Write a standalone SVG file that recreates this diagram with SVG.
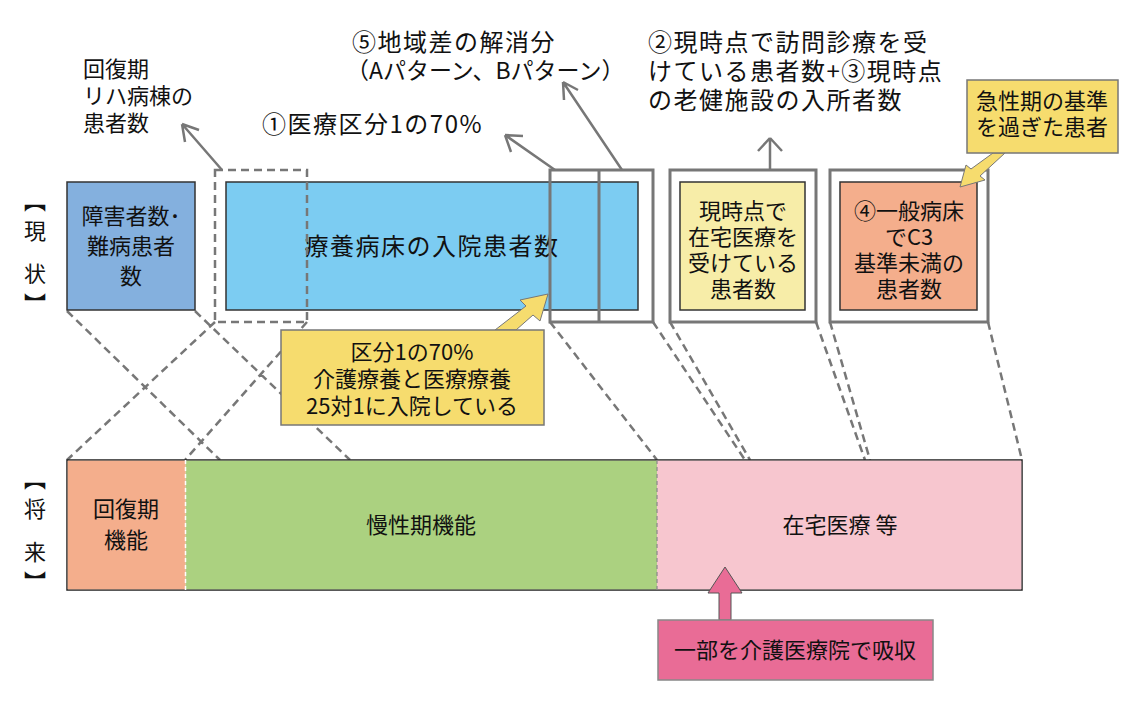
<svg xmlns="http://www.w3.org/2000/svg" width="1143" height="708" viewBox="0 0 1143 708">
<defs>
<style>
text{font-family:"Noto Sans CJK JP","Noto Sans",sans-serif;fill:#111;}
.t{font-size:22px;}
.L{font-size:24px;letter-spacing:1.5px;}
.c{text-anchor:middle;}
.box{stroke:#333;stroke-width:1.5;}
.frame{fill:none;stroke:#777;stroke-width:3;}
.dash{fill:none;stroke:#777;stroke-width:2.5;stroke-dasharray:8 5;}
.arr{fill:none;stroke:#777;stroke-width:2.5;}
</style>
</defs>
<rect width="1143" height="708" fill="#fff"/>
<text class="t" x="35" y="190" style="writing-mode:vertical-rl;letter-spacing:8px" font-size="22">【現 状】</text>
<text class="t" x="35" y="468" style="writing-mode:vertical-rl;letter-spacing:8px" font-size="22">【将 来】</text>
<g id="connectors">
<path class="dash" d="M67,311 L220,460 M195,311 L350,460 M215,322 L67,460 M307,322 L185,460 M550,322 L657,460 M653,322 L745,460 M670,322 L750,460 M816,322 L865,460 M830,322 L870,460 M988,322 L1022,460"/>
<path class="arr" d="M222,170 L182,124 M182,124 l3,18 M182,124 l17,6"/>
<path class="arr" d="M555,170 L505,135 M505,135 l6,17 M505,135 l18,1"/>
<path class="arr" d="M622,170 L563,82 M563,82 l1,18 M563,82 l15,8"/>
<path class="arr" d="M770,170 L770,138 M770,138 l-12,13 M770,138 l12,13"/>
</g>
<g id="n-shougai"><rect class="box" x="67" y="182" width="128" height="128" fill="#84B0DE"/>
<text class="t c" x="131" y="224" font-size="23">障害者数･</text><text class="t c" x="131" y="254" font-size="23">難病患者</text><text class="t c" x="131" y="284" font-size="23">数</text></g>
<g id="n-ryouyou"><rect class="box" x="226" y="182" width="412" height="128" fill="#7CCCF2"/>
<text class="L c" x="432" y="255">療養病床の入院患者数</text></g>
<g id="n-kaifuku-frame"><rect class="dash" x="215" y="170" width="92" height="152"/></g>
<g id="n-ryouyou-frame"><rect class="frame" x="550" y="170" width="103" height="152"/><line class="frame" x1="599" y1="170" x2="599" y2="322"/></g>
<g id="n-zaitaku"><rect class="frame" x="670" y="170" width="146" height="152"/>
<rect class="box" x="680" y="182" width="125" height="128" fill="#F7EDA8"/>
<text class="t c" x="743" y="219" font-size="20">現時点で</text><text class="t c" x="743" y="245" font-size="20">在宅医療を</text><text class="t c" x="743" y="271" font-size="20">受けている</text><text class="t c" x="743" y="297" font-size="20">患者数</text></g>
<g id="n-ippan"><rect class="frame" x="830" y="170" width="158" height="152"/>
<rect class="box" x="840" y="182" width="137" height="128" fill="#F4AE8C"/>
<text class="t c" x="909" y="219" font-size="20">④一般病床</text><text class="t c" x="909" y="245" font-size="20">でC3</text><text class="t c" x="909" y="271" font-size="20">基準未満の</text><text class="t c" x="909" y="297" font-size="20">患者数</text></g>
<g id="lbl-kaifuku"><text class="t" x="83" y="77" font-size="23">回復期</text><text class="t" x="83" y="104" font-size="23">リハ病棟の</text><text class="t" x="83" y="131" font-size="23">患者数</text></g>
<g id="lbl-1"><text class="L" x="262" y="133">①医療区分1の70%</text></g>
<g id="lbl-5"><text class="L" x="352" y="51">⑤地域差の解消分</text><text x="346" y="79" font-size="23">（Aパターン、Bパターン）</text></g>
<g id="lbl-23"><text class="L" x="648" y="51">②現時点で訪問診療を受</text><text class="L" x="648" y="80">けている患者数+③現時点</text><text class="L" x="648" y="109">の老健施設の入所者数</text></g>
<g id="callout-kyusei"><polygon points="993,153 1005,153 980,176 985,180 960,187 966,165 971,169" fill="#F6DC6E" stroke="#777" stroke-width="1"/>
<rect x="967" y="80" width="151" height="73" fill="#F6DC6E" stroke="#777" stroke-width="1.5"/>
<text class="t c" x="1042" y="109" font-size="20">急性期の基準</text><text class="t c" x="1042" y="135" font-size="20">を過ぎた患者</text></g>
<g id="callout-kubun"><polygon points="500,330 516,330 533,315 540,321 548,294 520,300 526,306 495,330" fill="#F6DC6E" stroke="#777" stroke-width="1"/>
<rect x="281" y="330" width="263" height="95" fill="#F6DC6E" stroke="#777" stroke-width="1.5"/>
<text class="t c" x="412" y="360" font-size="19">区分1の70%</text><text class="t c" x="412" y="387" font-size="19">介護療養と医療療養</text><text class="t c" x="412" y="414" font-size="19">25対1に入院している</text></g>
<g id="n-future"><rect x="67" y="460" width="955" height="130" fill="#fff" stroke="#222" stroke-width="1.5"/>
<rect x="67.7" y="460.7" width="118" height="128.6" fill="#F4AE8C"/>
<rect x="185.7" y="460.7" width="471.3" height="128.6" fill="#ABD180"/>
<rect x="657" y="460.7" width="364.3" height="128.6" fill="#F7C6CF"/>
<line x1="185.5" y1="460" x2="185.5" y2="590" stroke="#fff" stroke-width="1.5" stroke-dasharray="4 3"/>
<line x1="657" y1="460" x2="657" y2="590" stroke="#888" stroke-width="1.2" stroke-dasharray="4 3"/>
<text class="t c" x="126" y="517" font-size="22">回復期</text><text class="t c" x="126" y="548" font-size="22">機能</text>
<text class="t c" x="421" y="533" font-size="23">慢性期機能</text>
<text class="t c" x="840" y="533" font-size="23">在宅医療 等</text></g>
<g id="callout-kaigo"><polygon points="719,620 731,620 731,593 742,593 725,567 708,593 719,593" fill="#E96C96" stroke="#555" stroke-width="1"/>
<rect x="658" y="620" width="275" height="60" fill="#E96C96" stroke="#888" stroke-width="1.5"/>
<text class="t c" x="795" y="658">一部を介護医療院で吸収</text></g>
</svg>
